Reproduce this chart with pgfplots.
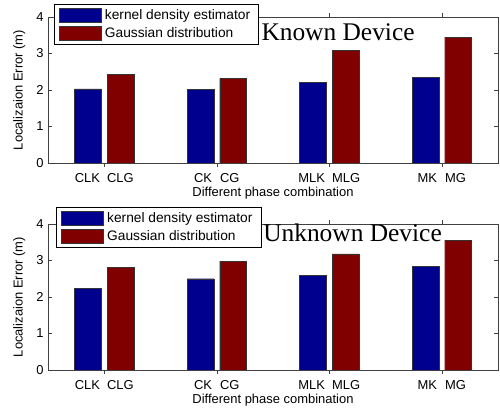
\documentclass[border=0pt]{standalone}
\usepackage{pgfplots}
\pgfplotsset{compat=1.18}
\usepackage{fontspec}
\setmainfont{Liberation Sans}
\newfontfamily\timesfont{Liberation Serif}
\definecolor{mblue}{RGB}{0,0,143}
\definecolor{mred}{RGB}{128,0,0}
\pgfplotsset{
  mystyle/.style={
    scale only axis, width=450bp, height=146bp,
    xmin=0.5, xmax=4.5, ymin=0, ymax=4,
    ytick={0,1,2,3,4},
    xtick={1,2,3,4},
    tick align=inside, major tick length=4bp,
    axis line style={black!75},
    every tick/.style={black!75},
    /pgf/number format/assume math mode=true,
    tick label style={font=\fontsize{13}{15}\selectfont},
    label style={font=\fontsize{13}{15}\selectfont},
    ylabel={Localizaion Error (m)},
    xlabel={Different phase combination},
    ylabel style={at={(axis description cs:-0.064,0.5)}, anchor=center},
    xlabel style={at={(axis description cs:0.5,-0.205)}, anchor=center},
    xticklabel style={anchor=center, yshift=-11bp},
    yticklabel style={xshift=-1bp},
    xticklabels={CLK\hspace{7bp}CLG, CK\hspace{8bp}CG, MLK\hspace{7bp}MLG, MK\hspace{8bp}MG},
    ybar, bar width=0.237,
    legend image code/.code={\draw[#1] (0bp,-7bp) rectangle (42bp,7bp);},
    legend cell align=left,
    legend style={font=\fontsize{13.8}{15}\selectfont, anchor=north west, draw=black,
      inner xsep=5bp, inner ysep=3bp, row sep=3bp,
      nodes={inner xsep=3.5bp}},
  }
}
\begin{document}
\begin{tikzpicture}
\path[use as bounding box] (0,0) rectangle (500bp,415bp);
\begin{axis}[mystyle, at={(48bp,252bp)}, anchor=south west,
  legend style={at={(axis description cs:0.013,1.089)}}]
\addplot[fill=mblue, draw=black!80, bar shift=-0.145] coordinates {(1,2.03) (2,2.01) (3,2.21) (4,2.35)};
\addplot[fill=mred, draw=black!80, bar shift=0.145] coordinates {(1,2.43) (2,2.32) (3,3.08) (4,3.45)};
\legend{kernel density estimator, Gaussian distribution}
\node[anchor=base west, font=\timesfont\fontsize{25.5}{27}\selectfont, inner sep=0pt] at (axis description cs:0.474,0.842) {Known Device};
\end{axis}
\begin{axis}[mystyle, at={(48bp,45bp)}, anchor=south west,
  legend style={at={(axis description cs:0.018,1.116)}}]
\addplot[fill=mblue, draw=black!80, bar shift=-0.145] coordinates {(1,2.24) (2,2.50) (3,2.59) (4,2.84)};
\addplot[fill=mred, draw=black!80, bar shift=0.145] coordinates {(1,2.81) (2,2.98) (3,3.18) (4,3.56)};
\legend{kernel density estimator, Gaussian distribution}
\node[anchor=base west, font=\timesfont\fontsize{25.5}{27}\selectfont, inner sep=0pt] at (axis description cs:0.478,0.877) {Unknown Device};
\end{axis}
\end{tikzpicture}
\end{document}
